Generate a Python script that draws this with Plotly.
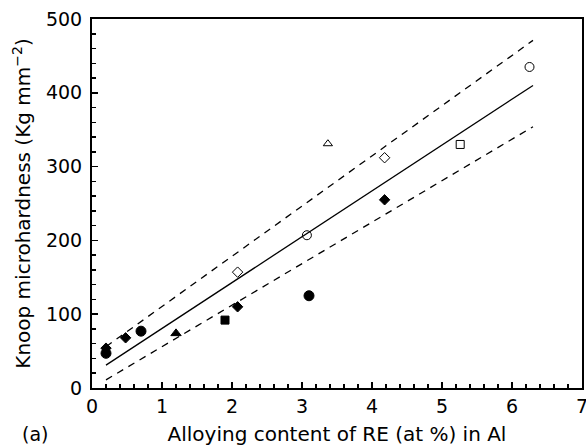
import plotly.graph_objects as go

# Data
fc_x = [0.2, 0.7, 3.1]            # filled circles
fc_y = [47, 77, 125]
fd_x = [0.2, 0.48, 2.08, 4.18]    # filled diamonds
fd_y = [54, 68, 110, 255]
ft_x = [1.2]                      # filled triangle
ft_y = [74]
fs_x = [1.9]                      # filled square
fs_y = [92]
od_x = [2.08, 4.18]               # open diamonds
od_y = [157, 312]
oc_x = [3.07, 6.25]               # open circles
oc_y = [207, 435]
ot_x = [3.37]                     # open triangle
ot_y = [331]
os_x = [5.26]                     # open square
os_y = [330]

fit_x = [0.2, 6.3]
fit_y = [31, 410]
upper_y = [56, 471]
lower_y = [11, 354]

x_ticks = [0, 1, 2, 3, 4, 5, 6, 7]
y_ticks = [0, 100, 200, 300, 400, 500]

FONT = "DejaVu Sans, Liberation Sans, Arial, sans-serif"

fig = go.Figure()

fig.add_trace(go.Scatter(x=fit_x, y=fit_y, mode="lines",
                         line=dict(color="black", width=1.3)))
fig.add_trace(go.Scatter(x=fit_x, y=upper_y, mode="lines",
                         line=dict(color="black", width=1.3, dash="7px,6px")))
fig.add_trace(go.Scatter(x=fit_x, y=lower_y, mode="lines",
                         line=dict(color="black", width=1.3, dash="7px,6px")))

def pts(x, y, symbol, size):
    fig.add_trace(go.Scatter(x=x, y=y, mode="markers",
                             marker=dict(symbol=symbol, size=size, color="black",
                                         line=dict(color="black", width=1))))

pts(fc_x, fc_y, "circle", 10)
pts(fd_x, fd_y, "diamond", 8)
pts(ft_x, ft_y, "triangle-up", 9)
pts(fs_x, fs_y, "square", 8)
pts(od_x, od_y, "diamond-open", 8)
pts(oc_x, oc_y, "circle-open", 9)
pts(ot_x, ot_y, "triangle-up-open", 8)
pts(os_x, os_y, "square-open", 8)

axis_common = dict(
    showline=True, linecolor="black", linewidth=2, mirror=True,
    ticks="inside", tickcolor="black", ticklen=6, tickwidth=1.5,
    showgrid=False, zeroline=False, ticklabeloverflow="allow",
    tickfont=dict(family=FONT, size=19, color="black"),
)

fig.update_xaxes(range=[0, 7], tickvals=x_ticks, ticktext=[str(v) for v in x_ticks],
                 minor=dict(dtick=0.2, ticks="inside", ticklen=4, tickcolor="black"),
                 title=dict(text="Alloying content of RE (at %) in Al",
                            font=dict(family=FONT, size=20, color="black"),
                            standoff=11),
                 automargin=False,
                 **axis_common)
fig.update_yaxes(range=[0, 500], tickvals=y_ticks, ticktext=[str(v) for v in y_ticks],
                 minor=dict(dtick=20, ticks="inside", ticklen=4, tickcolor="black"),
                 title=dict(text="Knoop microhardness (Kg mm<sup>−2</sup>)",
                            font=dict(family=FONT, size=20, color="black"),
                            standoff=10),
                 ticklabelstandoff=4,
                 automargin=False,
                 **axis_common)

fig.add_annotation(text="(a)", xref="paper", yref="paper", x=-0.116, y=-0.125,
                   xanchor="center", yanchor="middle", showarrow=False,
                   font=dict(family=FONT, size=19, color="black"))

fig.update_layout(width=586, height=448,
                  margin=dict(l=92, r=4, t=19, b=60),
                  paper_bgcolor="white", plot_bgcolor="white",
                  showlegend=False, hovermode=False)

fig.write_html("out.html",
               config={"displayModeBar": False, "staticPlot": True},
               post_script="document.body.style.margin='0';document.body.style.overflow='hidden';")
